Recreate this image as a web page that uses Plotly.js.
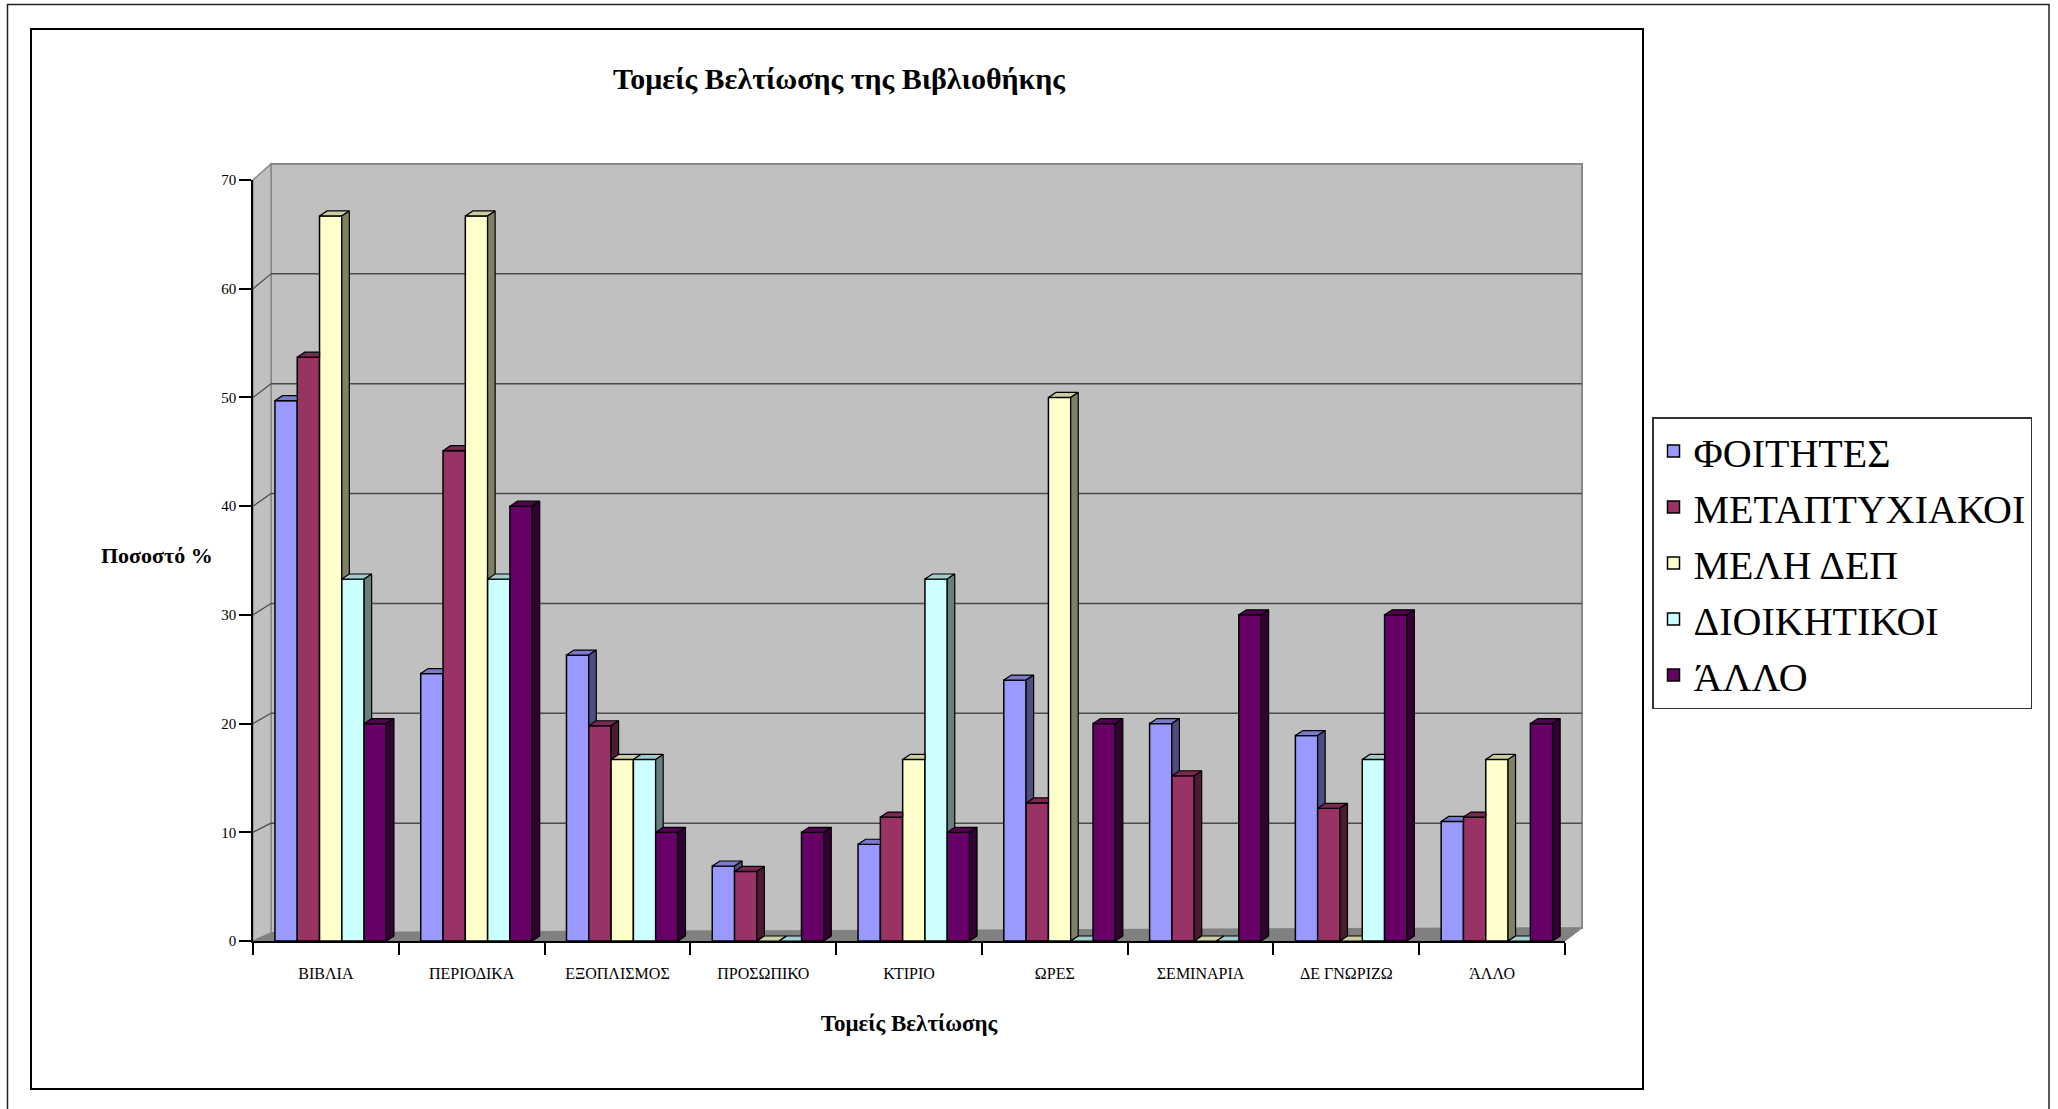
<!DOCTYPE html>
<html>
<head>
<meta charset="utf-8">
<script src="https://cdn.plot.ly/plotly-3.0.1.min.js"></script>
<style>
  html, body { margin: 0; padding: 0; background: #ffffff; }
  #chart { width: 2058px; height: 1109px; }
</style>
</head>
<body>
<div id="chart"></div>
<script>
// ---- data ----
const categories = ['ΒΙΒΛΙΑ', 'ΠΕΡΙΟΔΙΚΑ', 'ΕΞΟΠΛΙΣΜΟΣ', 'ΠΡΟΣΩΠΙΚΟ', 'ΚΤΙΡΙΟ', 'ΩΡΕΣ', 'ΣΕΜΙΝΑΡΙΑ', 'ΔΕ ΓΝΩΡΙΖΩ', 'ΆΛΛΟ'];
const seriesNames = ['ΦΟΙΤΗΤΕΣ', 'ΜΕΤΑΠΤΥΧΙΑΚΟΙ', 'ΜΕΛΗ ΔΕΠ', 'ΔΙΟΙΚΗΤΙΚΟΙ', 'ΆΛΛΟ'];
const foitites      = [49.7, 24.6, 26.3, 6.9, 8.9, 24.0, 20.0, 18.9, 11.0];
const metaptyxiakoi = [53.7, 45.1, 19.8, 6.4, 11.4, 12.7, 15.2, 12.2, 11.4];
const melhDep       = [66.7, 66.7, 16.7, 0, 16.7, 50.0, 0, 0, 16.7];
const dioikitikoi   = [33.3, 33.3, 16.7, 0, 33.3, 0, 0, 16.7, 0];
const allo          = [20, 40, 10, 10, 10, 20, 30, 30, 20];
const yTicks = [0, 10, 20, 30, 40, 50, 60, 70];

const seriesValues = [foitites, metaptyxiakoi, melhDep, dioikitikoi, allo];

// ---- styling ----
const frontColors = ['#9999FF', '#993366', '#FFFFCC', '#CCFFFF', '#660066'];
const topColors   = ['#7A7ACC', '#7A2952', '#CCCCA3', '#A3CCCC', '#520052'];
const sideColors  = ['#4D4D80', '#4D1A33', '#808066', '#668080', '#330033'];
const SERIF = 'Liberation Serif, Times New Roman, serif';

const W = 2058, H = 1109;
const PLOT = { l: 253, r: 1565, t: 180, b: 941 };        // front plane of the 3D box
const Y_MAX = yTicks[yTicks.length - 1];
const CAT_PX = (PLOT.r - PLOT.l) / categories.length;     // pixels per category
const UNIT_PX = (PLOT.b - PLOT.t) / Y_MAX;                // pixels per percent

// Box walls (pixel geometry of the pseudo-3D frame)
const BACK = { l: 271, r: 1582, t: 164, bl: 933, br: 928 };

// Bar geometry
const BAR_W = 22.3 / CAT_PX;          // width of one column (category units)
const GROUP_SHIFT = 4.8 / CAT_PX;     // columns sit slightly right of centre
const DX = 7.5 / CAT_PX;              // column depth, horizontal
const DY = 5 / UNIT_PX;               // column depth, vertical

const xCenters = categories.map((_, i) => i + 0.5);
const boundaries = Array.from({ length: categories.length + 1 }, (_, i) => i);
const offsets = seriesNames.map((_, s) => -2.5 * BAR_W + GROUP_SHIFT + s * BAR_W);

// ---- helpers ----
const px2x = px => (px - PLOT.l) / (PLOT.r - PLOT.l);
const px2y = py => (PLOT.b - py) / (PLOT.b - PLOT.t);
function paperPath(points) {
  return 'M' + points.map(p => px2x(p[0]).toFixed(5) + ',' + px2y(p[1]).toFixed(5)).join(' L') + ' Z';
}
function clipAbove(poly, c) {
  const out = [];
  for (let i = 0; i < poly.length; i++) {
    const a = poly[i], b = poly[(i + 1) % poly.length];
    const ina = a[1] >= c, inb = b[1] >= c;
    if (ina) out.push(a);
    if (ina !== inb) {
      const t = (c - a[1]) / (b[1] - a[1]);
      out.push([a[0] + t * (b[0] - a[0]), c]);
    }
  }
  return out;
}
function pushPoly(target, poly) {
  if (poly.length < 3) return;
  poly.forEach(p => { target.x.push(p[0]); target.y.push(p[1]); });
  target.x.push(poly[0][0]); target.y.push(poly[0][1]);
  target.x.push(null); target.y.push(null);
}

// ---- traces ----
const barTraces = seriesNames.map((name, s) => ({
  type: 'bar',
  name: name,
  legendgroup: 'g' + s,
  x: xCenters,
  y: seriesValues[s],
  offset: offsets[s],
  width: BAR_W,
  customdata: categories,
  marker: { color: frontColors[s], line: { color: '#000000', width: 1.5 } },
  cliponaxis: false,
  hovertemplate: '%{customdata}<br>' + name + ': %{y}%<extra></extra>'
}));

const faceTraces = [];
seriesNames.forEach((name, s) => {
  const top = { x: [], y: [] }, side = { x: [], y: [] };
  categories.forEach((_, i) => {
    const v = seriesValues[s][i];
    const x0 = xCenters[i] + offsets[s];
    const x1 = x0 + BAR_W;
    const hasNext = s < seriesNames.length - 1;
    const vn = hasNext ? seriesValues[s + 1][i] : -Infinity;

    // top face, minus the part hidden behind the next column
    if (vn <= v) {
      pushPoly(top, [[x0, v], [x0 + DX, v + DY], [x1 + DX, v + DY], [x1, v]]);
    } else if (vn >= v + DY) {
      pushPoly(top, [[x0, v], [x0 + DX, v + DY], [x1, v + DY], [x1, v]]);
    } else {
      const xc = x1 + (vn - v) / DY * DX;
      pushPoly(top, [[x0, v], [x0 + DX, v + DY], [x1 + DX, v + DY], [xc, vn], [x1, vn], [x1, v]]);
    }

    // right side face, only the part above the next column
    let sidePoly = [[x1, 0], [x1 + DX, DY], [x1 + DX, v + DY], [x1, v]];
    if (hasNext && vn > 0) {
      if (vn >= v + DY - 1e-9) sidePoly = [];
      else sidePoly = clipAbove(sidePoly, vn);
    }
    pushPoly(side, sidePoly);
  });
  [[top, topColors[s]], [side, sideColors[s]]].forEach(([poly, color]) => {
    faceTraces.push({
      type: 'scatter',
      mode: 'lines',
      x: poly.x,
      y: poly.y,
      fill: 'toself',
      fillcolor: color,
      line: { color: '#000000', width: 1.2 },
      legendgroup: 'g' + s,
      showlegend: false,
      hoverinfo: 'skip',
      cliponaxis: false
    });
  });
});

// ---- frame shapes ----
const shapes = [];
// outer and inner frames
shapes.push({ type: 'rect', xref: 'paper', yref: 'paper', layer: 'below',
  x0: px2x(7.5), x1: px2x(2049), y0: px2y(4.5), y1: px2y(1120),
  line: { color: '#222222', width: 1.5 }, fillcolor: 'rgba(0,0,0,0)' });
shapes.push({ type: 'rect', xref: 'paper', yref: 'paper', layer: 'below',
  x0: px2x(31), x1: px2x(1643), y0: px2y(29), y1: px2y(1089),
  line: { color: '#000000', width: 2 }, fillcolor: 'rgba(0,0,0,0)' });
// back wall
shapes.push({ type: 'path', xref: 'paper', yref: 'paper', layer: 'below',
  path: paperPath([[BACK.l, BACK.t], [BACK.r, BACK.t], [BACK.r, BACK.br], [BACK.l, BACK.bl]]),
  fillcolor: '#C0C0C0', line: { color: '#8A8A8A', width: 2 } });
// side wall
shapes.push({ type: 'path', xref: 'paper', yref: 'paper', layer: 'below',
  path: paperPath([[PLOT.l, PLOT.b], [PLOT.l, PLOT.t], [BACK.l, BACK.t], [BACK.l, BACK.bl]]),
  fillcolor: '#C0C0C0', line: { color: '#8A8A8A', width: 1.5 } });
// floor
shapes.push({ type: 'path', xref: 'paper', yref: 'paper', layer: 'below',
  path: paperPath([[PLOT.l, PLOT.b], [PLOT.r, PLOT.b], [BACK.r, BACK.br], [BACK.l, BACK.bl]]),
  fillcolor: '#808080', line: { color: '#808080', width: 1 } });
// gridlines on the back wall and the side wall
yTicks.forEach(v => {
  if (v <= 0 || v >= Y_MAX) return;
  const yb = BACK.bl - v * (BACK.bl - BACK.t) / Y_MAX;
  const yf = PLOT.b - v * UNIT_PX;
  shapes.push({ type: 'line', xref: 'paper', yref: 'paper', layer: 'below',
    x0: px2x(BACK.l), x1: px2x(BACK.r), y0: px2y(yb), y1: px2y(yb),
    line: { color: '#4A4A4A', width: 1.5 } });
  shapes.push({ type: 'line', xref: 'paper', yref: 'paper', layer: 'below',
    x0: px2x(PLOT.l), x1: px2x(BACK.l), y0: px2y(yf), y1: px2y(yb),
    line: { color: '#4A4A4A', width: 1.2 } });
});

const layout = {
  width: W,
  height: H,
  margin: { l: PLOT.l, r: W - PLOT.r, t: PLOT.t, b: H - PLOT.b, pad: 0, autoexpand: false },
  paper_bgcolor: '#ffffff',
  plot_bgcolor: 'rgba(0,0,0,0)',
  font: { family: SERIF, color: '#000000', size: 15 },
  barmode: 'overlay',
  showlegend: true,
  title: {
    text: 'Τομείς Βελτίωσης της Βιβλιοθήκης',
    font: { family: SERIF, size: 30, weight: 'bold', color: '#000000' },
    xref: 'container', yref: 'container',
    x: 839 / W, xanchor: 'center',
    y: 1 - 78 / H, yanchor: 'middle'
  },
  xaxis: {
    range: [0, categories.length],
    tickmode: 'array',
    tickvals: xCenters,
    ticktext: categories,
    ticks: 'outside',
    ticklen: 12,
    tickcolor: 'rgba(0,0,0,0)',
    ticklabelstandoff: 5,
    tickfont: { family: SERIF, size: 16, color: '#000000' },
    minor: { tickmode: 'array', tickvals: boundaries, ticks: 'outside', ticklen: 12,
             tickcolor: '#000000', tickwidth: 1.5, showgrid: false },
    showline: true, linecolor: '#000000', linewidth: 1.5,
    showgrid: false, zeroline: false, fixedrange: true,
    title: { text: 'Τομείς Βελτίωσης', font: { family: SERIF, size: 23, weight: 'bold', color: '#000000' }, standoff: 34 }
  },
  yaxis: {
    range: [0, Y_MAX],
    tickmode: 'array',
    tickvals: yTicks,
    ticks: 'outside',
    ticklen: 12,
    tickcolor: '#000000',
    tickwidth: 1.5,
    tickfont: { family: SERIF, size: 15, color: '#000000' },
    showline: true, linecolor: '#000000', linewidth: 1.5,
    showgrid: false, zeroline: false, fixedrange: true
  },
  legend: {
    xref: 'container', yref: 'container',
    x: 1652 / W, xanchor: 'left',
    y: 1 - 417 / H, yanchor: 'top',
    bgcolor: '#ffffff',
    bordercolor: '#333333',
    borderwidth: 1.5,
    tracegroupgap: 1,
    font: { family: SERIF, size: 40, color: '#000000' },
    itemclick: false, itemdoubleclick: false
  },
  annotations: [{
    text: 'Ποσοστό %',
    xref: 'paper', yref: 'paper',
    x: px2x(157), y: px2y(555),
    xanchor: 'center', yanchor: 'middle',
    showarrow: false,
    font: { family: SERIF, size: 22, weight: 'bold', color: '#000000' }
  }],
  shapes: shapes
};

Plotly.newPlot('chart', barTraces.concat(faceTraces), layout, { displayModeBar: false, staticPlot: false });
</script>
</body>
</html>
